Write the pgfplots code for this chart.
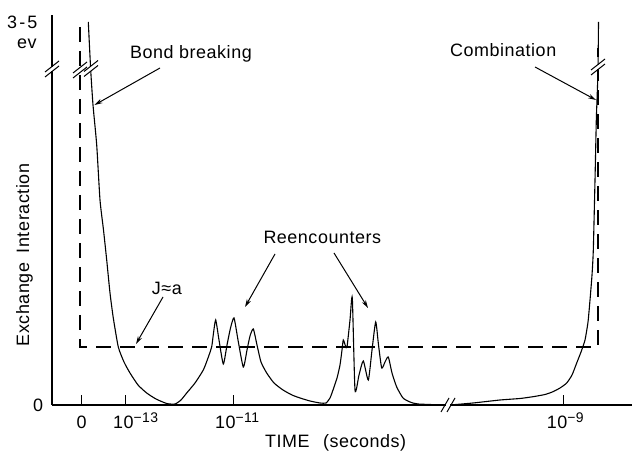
\documentclass[border=0pt]{standalone}
\usepackage{pgfplots}
\pgfplotsset{compat=1.18}
\usepackage{fontspec}
\setmainfont{Liberation Sans}[LetterSpace=3]
\usetikzlibrary{arrows.meta}

\newcommand{\vbrk}[2]{%
  \fill[white] ([xshift=-2bp,yshift=-2.2bp]axis cs:#1,#2) rectangle ([xshift=2bp,yshift=2.2bp]axis cs:#1,#2);
  \draw[line width=1bp] ([xshift=-7bp,yshift=-8bp]axis cs:#1,#2) -- ([xshift=7bp,yshift=3bp]axis cs:#1,#2);
  \draw[line width=1bp] ([xshift=-7bp,yshift=-3bp]axis cs:#1,#2) -- ([xshift=7bp,yshift=8bp]axis cs:#1,#2);
}
\newcommand{\hbrk}[2]{%
  \fill[white] ([xshift=-2.2bp,yshift=-1.6bp]axis cs:#1,#2) rectangle ([xshift=2.2bp,yshift=1.6bp]axis cs:#1,#2);
  \draw[line width=1bp] ([xshift=-7bp,yshift=-7bp]axis cs:#1,#2) -- ([xshift=1bp,yshift=7bp]axis cs:#1,#2);
  \draw[line width=1bp] ([xshift=-1bp,yshift=-7bp]axis cs:#1,#2) -- ([xshift=7bp,yshift=7bp]axis cs:#1,#2);
}
\newcommand{\tenexp}[1]{10\raisebox{6bp}{\fontsize{14}{14}\selectfont #1}}

\begin{document}
\begin{tikzpicture}[x=1bp,y=1bp]
\useasboundingbox (0,0) rectangle (632,453);
\begin{axis}[
  x=1bp, y=1bp,
  at={(52bp,48bp)}, anchor=south west,
  xmin=52, xmax=632, ymin=48, ymax=438,
  axis lines=left,
  axis line style={-, line width=1.1bp, black},
  xtick={81.7,125.7,233,563}, xticklabels={},
  ytick=\empty,
  tick align=inside, major tick length=10bp,
  tick style={line width=1bp, black},
  clip=false,
  font=\fontsize{18}{20}\selectfont,
]
% J ~ a level (dashed)
\addplot[black, line width=1.1bp, dash pattern=on 15bp off 9bp] coordinates {
  (80,426) (80,106) (598,106) (598,405)
};
% exchange interaction curve
\addplot[black, line width=1.1bp, smooth, tension=0.35] coordinates {
  (88.3,431) (90.7,383) (93,348) (96.7,308) (100,253) (103.5,223) (106.7,193)
  (110,160) (113.3,135) (118.3,106) (124,91) (130,80) (138,68) (146.7,60)
  (156,54) (166.7,49.5) (175,49) (181,53) (186.7,60) (195,70) (203.3,83)
  (208,95) (211.7,106.3) (213.5,120) (215.7,133) (219,113) (223.3,89)
  (227,108) (230.5,125) (234,135) (238,113) (243.3,86) (247,103) (250,117)
  (253.3,124) (257,108) (261,91) (266.7,80) (274,70) (283,63) (292,58)
  (300,55) (310,52) (320,50) (326,50) (330,55) (333,63) (337,75) (340,88)
  (342,103) (343.3,113) (345.5,107) (347,106) (350,133) (352.3,155)
  (355,63) (359,78) (363.3,92) (368.3,73) (372,103) (375.7,131)
  (378.5,108) (381.7,85) (385,91) (388.3,96) (392,80) (396.7,66)
  (403,55) (410,51) (418,49) (445,48) (450,48) (473,50) (500,53)
  (520,54.5) (533,56.3) (545,58.5) (553,61.3) (560,65) (566.7,70)
  (572,78) (576.7,90) (581,101) (585,113) (588,131) (590,153) (592,178)
  (593.3,203) (595,273) (596.3,333) (597,353) (598,383) (598.5,431)
};
% axis breaks
\vbrk{52}{384}
\vbrk{80}{383}
\vbrk{91}{384.5}
\vbrk{598}{386}
\hbrk{448}{48}
% annotations
\draw[line width=1bp, -{Stealth[length=8bp,width=4.5bp]}] (axis cs:160,385) -- (axis cs:94.5,348);
\draw[line width=1bp, -{Stealth[length=8bp,width=4.5bp]}] (axis cs:535,386) -- (axis cs:596,353);
\draw[line width=1bp, -{Stealth[length=8bp,width=4.5bp]}] (axis cs:275,199) -- (axis cs:245,146);
\draw[line width=1bp, -{Stealth[length=8bp,width=4.5bp]}] (axis cs:334,200) -- (axis cs:368,145);
\draw[line width=1bp, -{Stealth[length=8bp,width=4.5bp]}] (axis cs:163,156) -- (axis cs:136,109);
\node[anchor=base west, inner sep=0pt] at (axis cs:130,394.7) {Bond breaking};
\node[anchor=base west, inner sep=0pt] at (axis cs:450,396.3) {Combination};
\node[anchor=base west, inner sep=0pt] at (axis cs:263.3,209.7) {Reencounters};
\node[anchor=base west, inner sep=0pt] at (axis cs:151.7,158) {J≈a};
\end{axis}
% labels outside the axis box
\begin{scope}[font=\fontsize{18}{20}\selectfont]
\node[anchor=base west, inner sep=0pt] at (7,424.7) {\addfontfeatures{LetterSpace=12}3-5};
\node[anchor=base west, inner sep=0pt] at (17,404.7) {ev};
\node[anchor=base, inner sep=0pt] at (38,41) {0};
\node[anchor=base, inner sep=0pt, rotate=90] at (29,198) {Exchange\hspace{4bp} Interaction};
\node[anchor=base, inner sep=0pt] at (81.7,24) {0};
\node[anchor=base west, inner sep=0pt] at (113,24) {\tenexp{−13}};
\node[anchor=base west, inner sep=0pt] at (215,24) {\tenexp{−11}};
\node[anchor=base west, inner sep=0pt] at (546.7,24) {\tenexp{−9}};
\node[anchor=base west, inner sep=0pt] at (265,5) {TIME\hspace{8bp} (seconds)};
\end{scope}
\end{tikzpicture}
\end{document}
